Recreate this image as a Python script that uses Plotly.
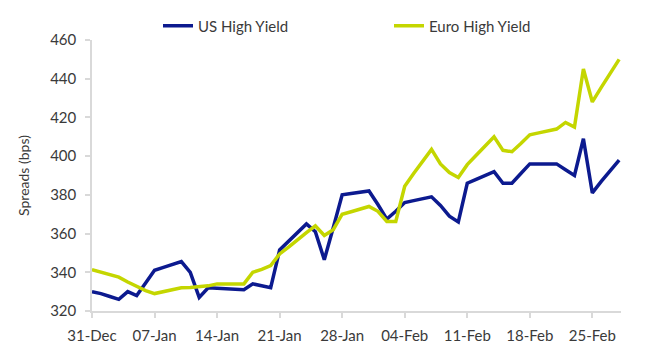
import pandas as pd
import plotly.graph_objects as go

# Daily observations from 31-Dec-2018 to 28-Feb-2019 (60 days)
dates = pd.date_range("2018-12-31", "2019-02-28", freq="D")

us_high_yield = [
    330, 329, 327.5, 326, 330, 328, 334.5, 341, 342.5, 344,
    345.5, 340, 327, 332, 331.8, 331.5, 331.3, 331, 334, 333,
    332, 351.5, 356, 360.5, 365, 361, 346.5, 363, 380, 380.7,
    381.3, 382, 375, 367.5, 371.5, 376, 377, 378, 379, 374.5,
    369, 366, 386, 388, 390, 392, 386, 386, 391, 396,
    396, 396, 396, 393, 390, 409, 381, 387, 392.5, 398,
]

euro_high_yield = [
    341.4, 340, 338.7, 337.5, 335, 332.5, 330.5, 329, 330, 331,
    332, 332.2, 332.5, 333, 334, 334, 334, 334, 340, 341.5,
    343.5, 349.5, 353, 357, 360.5, 364, 359, 362, 370, 371.3,
    372.5, 374, 371.5, 366.3, 366.3, 384.4, 391, 397, 403.5, 396,
    391.5, 389, 395.6, 400.5, 405.5, 410, 403, 402.3, 406.5, 411,
    412, 413, 414, 417.4, 415, 445, 428, 435.5, 443, 450,
]

tick_dates = pd.date_range("2018-12-31", "2019-02-25", freq="7D")
y_ticks = [320, 340, 360, 380, 400, 420, 440, 460]

FONT = "Lato, 'Noto Sans', sans-serif"
TXT = "#3a3a3a"
AX = "#d9d9d9"

fig = go.Figure()
fig.add_trace(go.Scatter(x=dates, y=us_high_yield, mode="lines", name="US High Yield",
                         line=dict(color="#0c1a8f", width=3.5)))
fig.add_trace(go.Scatter(x=dates, y=euro_high_yield, mode="lines", name="Euro High Yield",
                         line=dict(color="#c4d600", width=3.5)))

fig.update_layout(
    width=655, height=351,
    margin=dict(l=92, r=34, t=40, b=40, autoexpand=False),
    paper_bgcolor="white", plot_bgcolor="white",
    font=dict(family=FONT, size=15, color=TXT),
    showlegend=True,
    legend=dict(orientation="h", x=158/655, xref="container", xanchor="left",
                y=1 - 26/351, yref="container", yanchor="middle",
                entrywidth=186, font=dict(size=15, color=TXT),
                bgcolor="rgba(0,0,0,0)", traceorder="normal"),
)
fig.update_xaxes(
    type="date",
    range=[pd.Timestamp("2018-12-31"), pd.Timestamp("2019-02-28 05:00")],
    tickvals=tick_dates, tickformat="%d-%b",
    showgrid=False, zeroline=False,
    showline=True, linecolor=AX, linewidth=1.5,
    ticks="outside", ticklen=5, tickcolor=AX, tickwidth=1.5,
    ticklabelstandoff=5,
    tickfont=dict(size=15, color=TXT),
)
fig.update_yaxes(
    range=[320, 460], tickvals=y_ticks,
    showgrid=False, zeroline=False,
    showline=True, linecolor=AX, linewidth=1.5,
    ticks="outside", ticklen=5, tickcolor=AX, tickwidth=1.5,
    ticklabelstandoff=6,
    tickfont=dict(size=15, color=TXT),
    title=dict(text="Spreads (bps)", font=dict(size=14, color=TXT), standoff=17),
)

fig.write_html("out.html")
